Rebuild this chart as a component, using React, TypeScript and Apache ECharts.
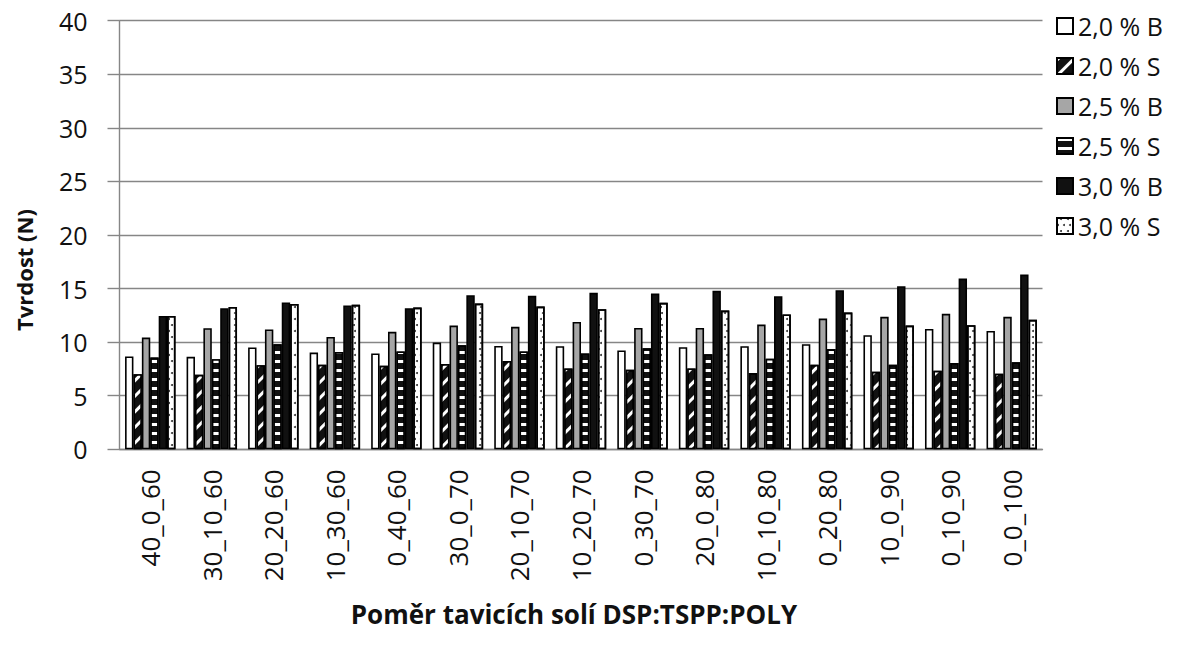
import React, { useEffect, useRef } from "react";
import * as echarts from "echarts";

// Tavicí soli: poměr DSP:TSPP:POLY
const categories = [
  "40_0_60", "30_10_60", "20_20_60", "10_30_60", "0_40_60",
  "30_0_70", "20_10_70", "10_20_70", "0_30_70",
  "20_0_80", "10_10_80", "0_20_80",
  "10_0_90", "0_10_90", "0_0_100",
];

// Tvrdost (N)
const b20 = [8.66, 8.63, 9.5, 9.03, 8.94, 9.96, 9.65, 9.62, 9.22, 9.53, 9.62, 9.81, 10.65, 11.23, 11.05];
const s20 = [7.01, 6.95, 7.85, 7.88, 7.79, 7.95, 8.25, 7.54, 7.42, 7.54, 7.11, 7.88, 7.23, 7.32, 7.05];
const b25 = [10.43, 11.3, 11.18, 10.49, 10.96, 11.55, 11.43, 11.88, 11.33, 11.33, 11.64, 12.2, 12.36, 12.64, 12.36];
const s25 = [8.57, 8.41, 9.81, 9.07, 9.13, 9.72, 9.13, 8.95, 9.44, 8.88, 8.44, 9.35, 7.88, 8.06, 8.12];
const b30 = [12.45, 13.17, 13.7, 13.42, 13.17, 14.38, 14.32, 14.6, 14.53, 14.79, 14.29, 14.85, 15.22, 15.93, 16.31];
const s30 = [12.45, 13.29, 13.57, 13.48, 13.23, 13.6, 13.32, 13.08, 13.67, 12.95, 12.58, 12.76, 11.55, 11.58, 12.08];

const seriesNames = ["2,0 % B", "2,0 % S", "2,5 % B", "2,5 % S", "3,0 % B", "3,0 % S"];

const yTicks = { min: 0, max: 40, interval: 5 };

const FONT = "'Open Sans', 'Noto Sans', sans-serif";
const GRID_COLOR = "#868686";
const TEXT_COLOR = "#111111";

export default function App() {
  const ref = useRef<HTMLDivElement>(null);

  useEffect(() => {
    if (!ref.current) return;
    const chart = echarts.init(ref.current, null, { renderer: "svg" });

    const border = { borderColor: "#000", borderWidth: 1.6 };
    const styles: any[] = [
      { color: "#ffffff", ...border },
      {
        // black with rising white hatching
        color: "#111111",
        ...border,
        decal: {
          symbol: "rect",
          color: "#ffffff",
          dashArrayX: [1, 0],
          dashArrayY: [2.5, 8],
          rotation: -Math.PI / 4,
        },
      },
      { color: "#a6a6a6", ...border },
      {
        // black with white horizontal bands
        color: "#111111",
        ...border,
        decal: {
          symbol: "rect",
          color: "#ffffff",
          dashArrayX: [1, 0],
          dashArrayY: [2.7, 5.6],
          rotation: 0,
        },
      },
      { color: "#111111", ...border },
      {
        // white with small dark dots
        color: "#ffffff",
        ...border,
        decal: {
          symbol: "circle",
          color: "#333333",
          dashArrayX: [[1.7, 4], [0, 2.85, 1.7, 1.15]],
          dashArrayY: [1.7, 3.2],
          rotation: 0,
        },
      },
    ];
    const values = [b20, s20, b25, s25, b30, s30];

    chart.setOption({
      animation: false,
      backgroundColor: "#ffffff",
      textStyle: { fontFamily: FONT },
      grid: { left: 119.5, right: 143.5, top: 20.7, bottom: 195.7, containLabel: false },
      legend: {
        orient: "vertical",
        left: 1051,
        top: 7,
        itemWidth: 16,
        itemHeight: 16,
        itemGap: 12,
        icon: "rect",
        textStyle: { fontFamily: FONT, fontSize: 25, color: TEXT_COLOR, lineHeight: 28 },
        data: seriesNames,
      },
      xAxis: {
        type: "category",
        data: categories,
        axisLine: { show: true, lineStyle: { color: GRID_COLOR, width: 1.4 } },
        axisTick: { show: false },
        axisLabel: {
          rotate: 90,
          interval: 0,
          margin: 20,
          fontFamily: FONT,
          fontSize: 26,
          color: TEXT_COLOR,
        },
      },
      yAxis: {
        type: "value",
        min: yTicks.min,
        max: yTicks.max,
        interval: yTicks.interval,
        axisLine: { show: true, lineStyle: { color: GRID_COLOR, width: 1.4 } },
        axisTick: { show: true, length: 12, lineStyle: { color: GRID_COLOR, width: 1.4 } },
        axisLabel: { margin: 32, fontFamily: FONT, fontSize: 25, color: TEXT_COLOR },
        splitLine: { show: true, lineStyle: { color: GRID_COLOR, width: 1.4 } },
      },
      graphic: [
        {
          type: "text",
          x: 24,
          y: 270,
          rotation: Math.PI / 2,
          style: {
            text: "Tvrdost (N)",
            fontFamily: FONT,
            fontWeight: "bold",
            fontSize: 22,
            fill: TEXT_COLOR,
            textAlign: "center",
            textVerticalAlign: "middle",
          },
        },
        {
          type: "text",
          x: 574,
          y: 614,
          style: {
            text: "Poměr tavicích solí DSP:TSPP:POLY",
            fontFamily: FONT,
            fontWeight: "bold",
            fontSize: 26,
            fill: TEXT_COLOR,
            textAlign: "center",
            textVerticalAlign: "middle",
          },
        },
      ],
      series: seriesNames.map((name, i) => ({
        name,
        type: "bar",
        data: values[i],
        barGap: "0%",
        barCategoryGap: "18%",
        itemStyle: styles[i],
        emphasis: { disabled: true },
      })),
    });

    return () => chart.dispose();
  }, []);

  return <div ref={ref} style={{ width: 1186, height: 645, position: "absolute", left: 0, top: 0 }} />;
}
